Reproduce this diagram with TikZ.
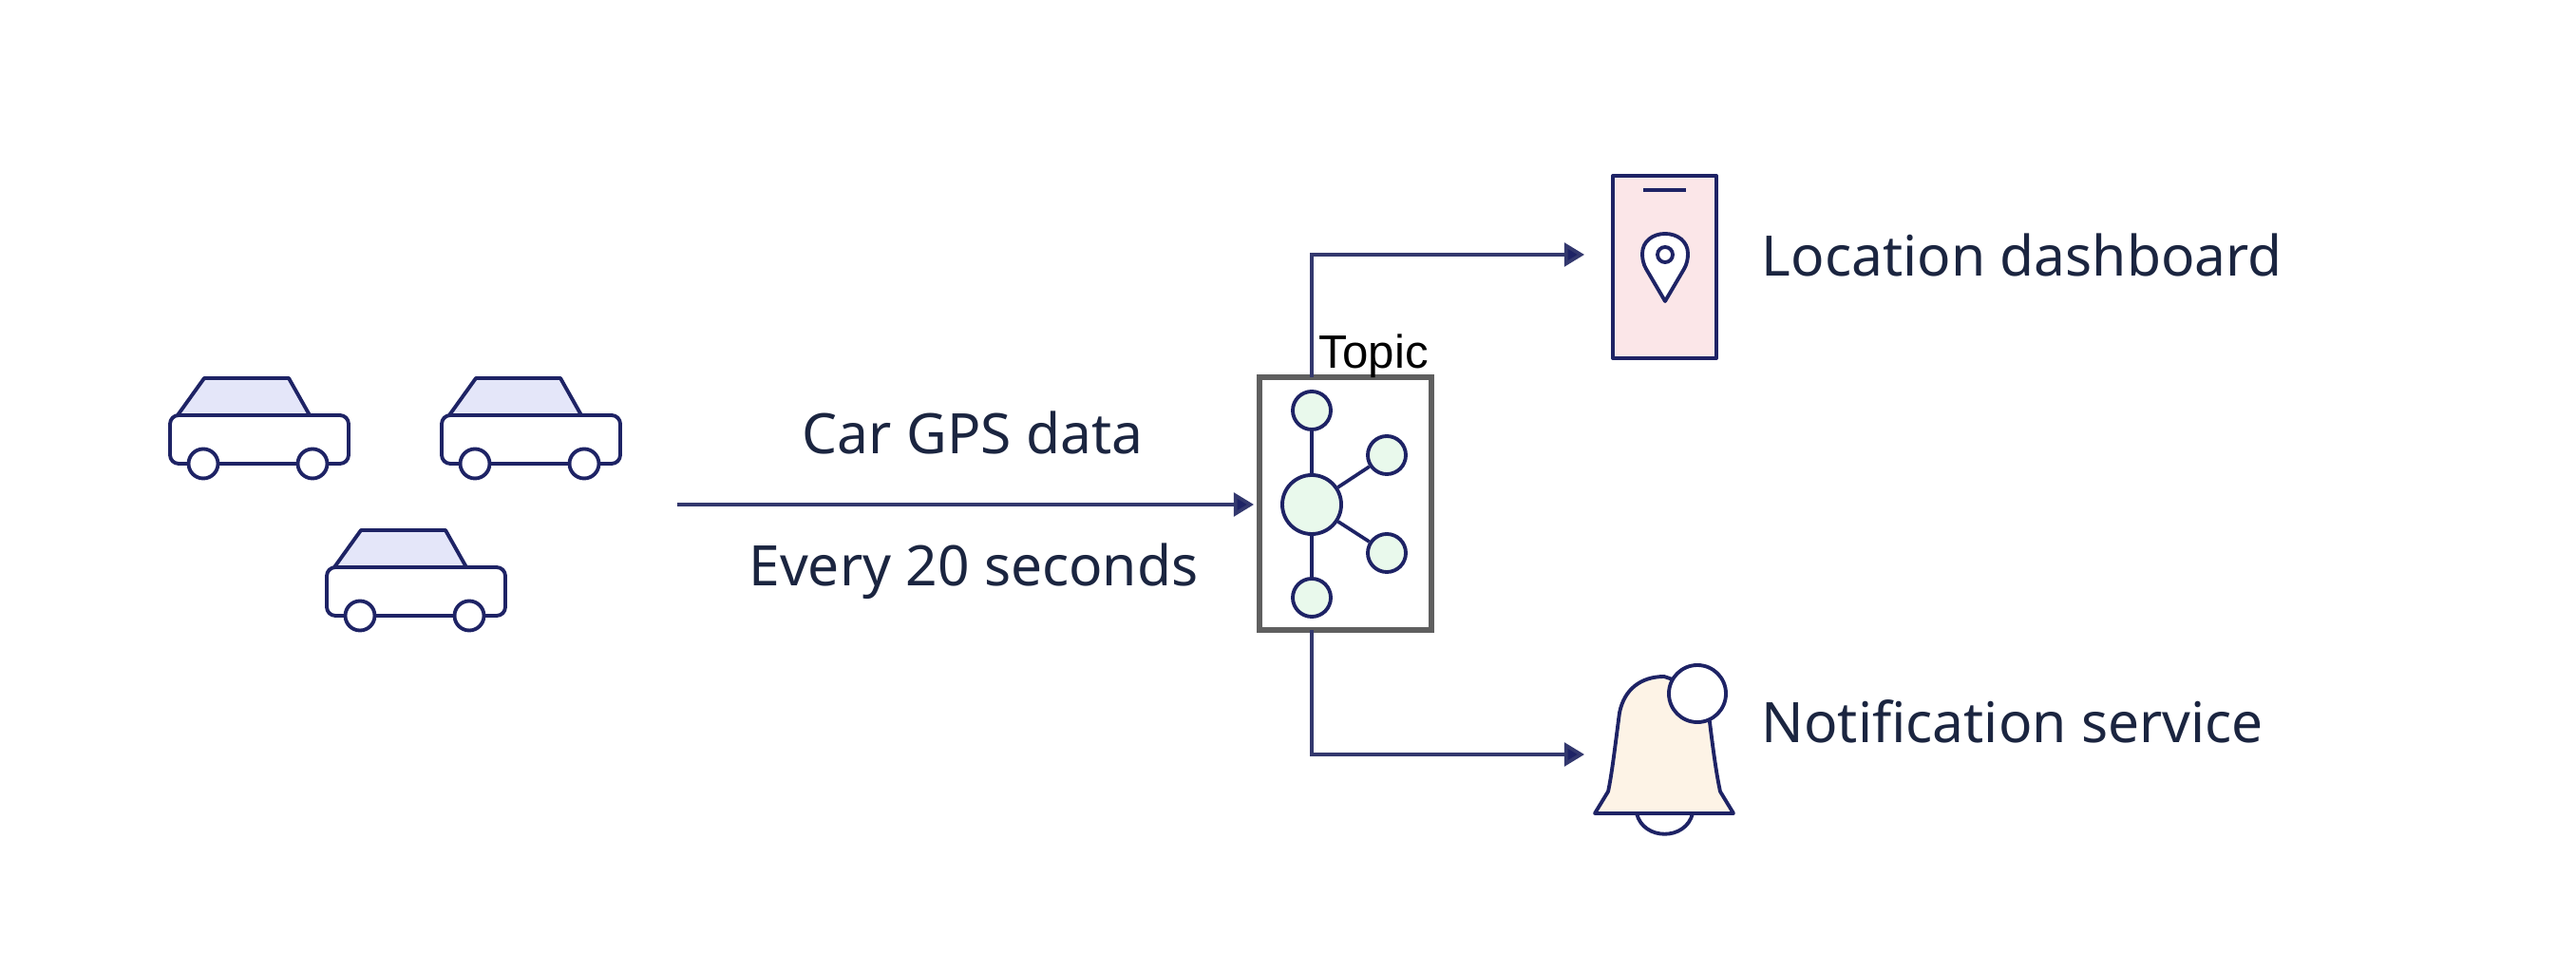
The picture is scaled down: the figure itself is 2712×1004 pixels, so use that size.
\documentclass[tikz,border=0pt]{standalone}
\usepackage{fontspec}
\setmainfont{Noto Sans}
\newfontfamily\labelfont{Liberation Sans}
\usetikzlibrary{arrows.meta}
\definecolor{ink}{HTML}{1E2365}
\definecolor{wire}{HTML}{33386E}
\definecolor{textink}{HTML}{1B2540}
\definecolor{roof}{HTML}{E4E6F9}
\definecolor{mint}{HTML}{E9F9EC}
\definecolor{blush}{HTML}{FBE6E8}
\definecolor{cream}{HTML}{FDF3E6}
\definecolor{framegray}{HTML}{5F5F5F}
\tikzset{
  x=0.01cm, y=-0.01cm,
  outline/.style={draw=ink, line width=1.1pt, line join=round},
  flow/.style={draw=wire, line width=1.05pt, -{Triangle[length=6pt,width=7pt,fill=ink]}},
  hubnode/.style={circle, outline, fill=mint, inner sep=0pt, minimum size=#1},
  spoke/.style={draw=ink, line width=1.05pt},
  caption/.style={font=\fontsize{16.7pt}{20pt}\selectfont, text=textink, inner sep=0pt},
  pics/car/.style={code={
    \draw[outline, fill=roof] (8,0) -- (36,-39) -- (125,-39) -- (147,0) -- cycle;
    \draw[outline, fill=white, rounded corners=2.6pt] (0,0) rectangle (188,51);
    \draw[outline, fill=white] (35,51) circle[radius=15.5];
    \draw[outline, fill=white] (150,51) circle[radius=15.5];
  }}
}
\begin{document}
\begin{tikzpicture}
\useasboundingbox (0,0) rectangle (2712,1004);

% vehicles
\pic (carA) at (179,437) {car};
\pic (carB) at (465,437) {car};
\pic (carC) at (344,597) {car};

% free ends of the connectors
\coordinate (feed) at (713,531);
\coordinate (feedEnd) at (1320,531);
\coordinate (dashIn) at (1668,268);
\coordinate (bellIn) at (1668,794);

% topic frame and its hub
\node[draw=framegray, line width=1.7pt, fill=white, minimum width=1.81cm, minimum height=2.66cm, inner sep=0pt, outer sep=0pt] (topic) at (1416.5,530) {};
\node[hubnode=0.62cm] (hub) at (1381,531) {};
\node[hubnode=0.40cm] (leafN) at (1381,432) {};
\node[hubnode=0.40cm] (leafS) at (1381,629) {};
\node[hubnode=0.40cm] (leafNE) at (1460,479) {};
\node[hubnode=0.40cm] (leafSE) at (1460,582) {};
\draw[spoke] (hub) -- (leafN);
\draw[spoke] (hub) -- (leafS);
\draw[spoke] (hub) -- (leafNE);
\draw[spoke] (hub) -- (leafSE);
\node[font=\labelfont\fontsize{14pt}{16pt}\selectfont, text=black, anchor=base west, inner sep=0pt] (topicLabel) at (1388,388) {Topic};

% phone with a map pin
\node[outline, fill=blush, minimum width=1.09cm, minimum height=1.92cm, inner sep=0pt, outer sep=0pt] (phone) at (1752.5,281) {};
\draw[outline, line width=1.2pt] (1730,200) -- (1775,200);
\draw[outline, fill=white] (1753,317) -- (1733,283)
  .. controls (1730,278) and (1729,272) .. (1729,267)
  .. controls (1729,254) and (1740,246) .. (1753,246)
  .. controls (1766,246) and (1777,254) .. (1777,267)
  .. controls (1777,272) and (1776,278) .. (1773,283) -- cycle;
\draw[outline] (1753,268) circle[radius=8];

% bell with a badge
\draw[outline] (1723,856) .. controls (1730,885) and (1775,885) .. (1782,856);
\draw[outline, fill=cream] (1679,856) -- (1693,833)
  .. controls (1697,815) and (1701,780) .. (1705,750)
  .. controls (1710,725) and (1728,712) .. (1752,712)
  -- (1790,725) -- (1800,760)
  .. controls (1803,785) and (1807,815) .. (1811,833)
  -- (1825,856) -- cycle;
\node[circle, outline, fill=white, inner sep=0pt, minimum size=0.60cm] (badge) at (1787,730) {};

% connectors
\draw[flow] (feed) -- (feedEnd);
\draw[flow] (topic.north -| hub) |- (dashIn);
\draw[flow] (topic.south -| hub) |- (bellIn);

% captions
\node[caption] (gpsLabel) at (1024,455) {Car GPS data};
\node[caption] (rateLabel) at (1025,601) {Every 20 seconds};
\node[caption, anchor=west] (dashLabel) at (1854,268) {Location dashboard};
\node[caption, anchor=west] (notifyLabel) at (1854,759) {Notification service};
\end{tikzpicture}
\end{document}
